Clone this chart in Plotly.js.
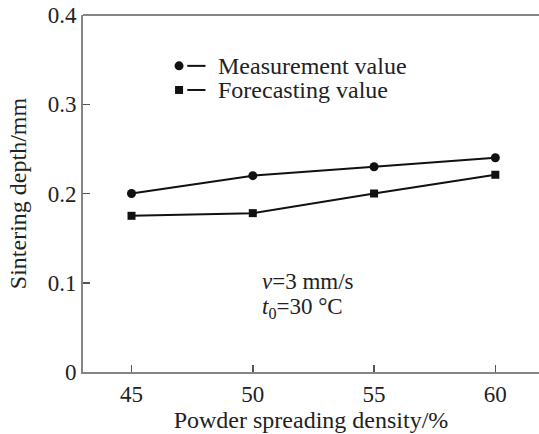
<!DOCTYPE html>
<html>
<head>
<meta charset="utf-8">
<script src="https://cdn.plot.ly/plotly-3.0.1.min.js"></script>
<style>html,body{margin:0;padding:0;background:#fff;}#chart{width:539px;height:434px;}</style>
</head>
<body>
<div id="chart"></div>
<script>
var density = [45, 50, 55, 60];
var measurement = [0.200, 0.220, 0.230, 0.240];
var forecasting = [0.175, 0.178, 0.200, 0.221];
var seriesNames = ["Measurement value", "Forecasting value"];
var xTicks = [45, 50, 55, 60];
var yTicks = [0, 0.1, 0.2, 0.3, 0.4];
var yTickText = ["0", "0.1", "0.2", "0.3", "0.4"];

var font = "Liberation Serif";
var axisCol = "#858585";
var txt = "#222";

var traces = [
  {x: density, y: measurement, name: seriesNames[0], mode: "lines+markers",
   line: {color: "#111", width: 2}, marker: {symbol: "circle", size: 9, color: "#111"}, showlegend: false},
  {x: density, y: forecasting, name: seriesNames[1], mode: "lines+markers",
   line: {color: "#111", width: 2}, marker: {symbol: "square", size: 8, color: "#111"}, showlegend: false}
];

function legMarker(type, xc, yc, r) {
  return {type: type, xref: "x", yref: "y", xsizemode: "pixel", ysizemode: "pixel",
          xanchor: xc, yanchor: yc, x0: -r, x1: r, y0: -r, y1: r,
          fillcolor: "#111", line: {width: 0}};
}

var layout = {
  width: 539, height: 434,
  margin: {l: 83, r: 0, t: 15, b: 62},
  paper_bgcolor: "#fff", plot_bgcolor: "#fff",
  font: {family: font, size: 23, color: txt},
  xaxis: {
    range: [43.0, 61.8], tickvals: xTicks, ticktext: xTicks.map(String),
    showgrid: false, zeroline: false, showline: true, linecolor: axisCol, linewidth: 2,
    ticks: "inside", ticklen: 7, tickwidth: 1.5, tickcolor: "#555",
    tickfont: {family: font, size: 23, color: txt},
    title: {text: "Powder spreading density/%", font: {family: font, size: 24, color: txt}, standoff: 6}
  },
  yaxis: {
    range: [0, 0.4], tickvals: yTicks, ticktext: yTickText,
    showgrid: false, zeroline: false, showline: true, linecolor: axisCol, linewidth: 2,
    ticks: "inside", ticklen: 7, tickwidth: 1.5, tickcolor: "#555",
    tickfont: {family: font, size: 23, color: txt},
    title: {text: "Sintering depth/mm", font: {family: font, size: 24, color: txt}, standoff: 14}
  },
  shapes: [
    {type: "line", xref: "paper", yref: "paper", x0: 0, x1: 1, y0: 1, y1: 1, line: {color: axisCol, width: 2}},
    legMarker("circle", 46.96, 0.343, 4.5),
    {type: "line", xref: "x", yref: "y", x0: 47.3, x1: 48.05, y0: 0.343, y1: 0.343, line: {color: "#111", width: 2}},
    legMarker("rect", 46.96, 0.316, 4),
    {type: "line", xref: "x", yref: "y", x0: 47.3, x1: 48.05, y0: 0.316, y1: 0.316, line: {color: "#111", width: 2}}
  ],
  annotations: [
    {xref: "x", yref: "y", x: 48.5, y: 0.343, xanchor: "left", yanchor: "middle", showarrow: false,
     text: seriesNames[0], font: {family: font, size: 24, color: txt}},
    {xref: "x", yref: "y", x: 48.5, y: 0.316, xanchor: "left", yanchor: "middle", showarrow: false,
     text: seriesNames[1], font: {family: font, size: 24, color: txt}},
    {xref: "x", yref: "y", x: 50.3, y: 0.101, xanchor: "left", yanchor: "middle", showarrow: false,
     text: "<i>v</i>=3 mm/s", font: {family: font, size: 23, color: txt}},
    {xref: "x", yref: "y", x: 50.3, y: 0.072, xanchor: "left", yanchor: "middle", showarrow: false,
     text: "<i>t</i><sub>0</sub>=30 \u00b0C", font: {family: font, size: 23, color: txt}}
  ]
};

Plotly.newPlot("chart", traces, layout, {displayModeBar: false, staticPlot: true});
</script>
</body>
</html>
